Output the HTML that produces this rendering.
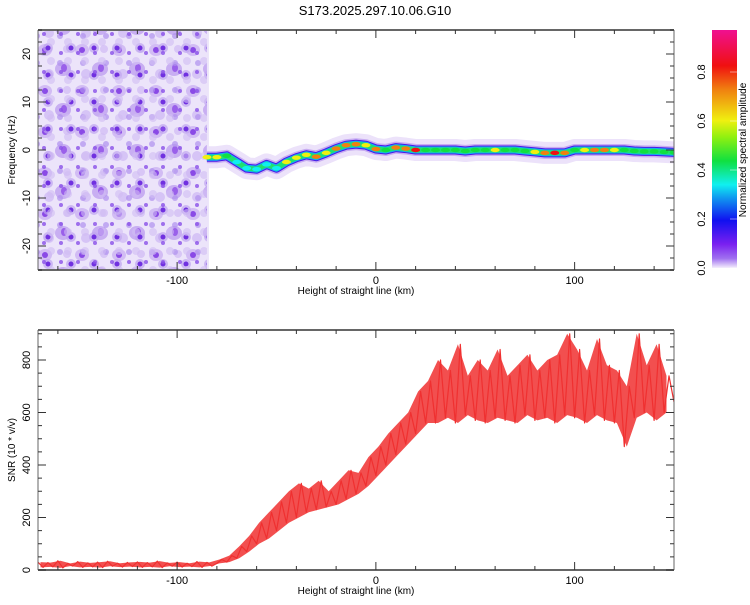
<!DOCTYPE html>
<html><head><meta charset="utf-8"><style>
body{margin:0;background:#fff;}
svg text{font-family:"Liberation Sans",sans-serif;font-size:11px;fill:#000;}
</style></head><body>
<svg id="chart" width="750" height="600" viewBox="0 0 750 600" xmlns="http://www.w3.org/2000/svg">
<defs>
<linearGradient id="cbar" x1="0" y1="1" x2="0" y2="0">
<stop offset="0" stop-color="#f4eefc"/><stop offset="0.04" stop-color="#a070f0"/><stop offset="0.1" stop-color="#7a20f0"/>
<stop offset="0.2" stop-color="#1010f0"/><stop offset="0.3" stop-color="#10a0f0"/><stop offset="0.35" stop-color="#10f0f0"/>
<stop offset="0.45" stop-color="#10e040"/><stop offset="0.55" stop-color="#90f010"/><stop offset="0.62" stop-color="#f0f010"/>
<stop offset="0.75" stop-color="#f08010"/><stop offset="0.85" stop-color="#f01010"/><stop offset="1" stop-color="#f01090"/>
</linearGradient>
<pattern id="p1" width="37" height="41" patternUnits="userSpaceOnUse">
<ellipse cx="8" cy="9" rx="7" ry="6" fill="#d2bcf4"/><ellipse cx="26" cy="28" rx="8" ry="7" fill="#c8aef2"/>
<circle cx="8" cy="9" r="3" fill="#8a4ae6"/><ellipse cx="27" cy="27" rx="3" ry="4" fill="#9a60ea"/>
<circle cx="30" cy="8" r="4" fill="#d8c6f6"/><circle cx="12" cy="33" r="5" fill="#d6c4f6"/>
</pattern>
<pattern id="p2" width="23" height="27" patternUnits="userSpaceOnUse" x="11" y="5">
<circle cx="14" cy="16" r="5" fill="#c0a4f0" opacity="0.7"/><circle cx="14" cy="16" r="2.5" fill="#7030e0"/>
<circle cx="3" cy="4" r="3" fill="#b090ee" opacity="0.7"/>
</pattern>
<pattern id="p3" width="17" height="19" patternUnits="userSpaceOnUse" x="5" y="9">
<circle cx="5" cy="6" r="2" fill="#8a50e8" opacity="0.8"/><circle cx="12" cy="14" r="4" fill="#d0bcf4" opacity="0.6"/>
</pattern>
<clipPath id="topclip"><rect x="38" y="30" width="636" height="240"/></clipPath>
<clipPath id="botclip"><rect x="38" y="330" width="636" height="240"/></clipPath>
</defs>
<text x="375" y="15" text-anchor="middle" style="font-size:13px">S173.2025.297.10.06.G10</text>
<g id="topPanel"></g>
<g id="bot"></g>
<g id="cb"></g>
</svg>
<script>
// data
const bandX = [-85,-80,-75,-70,-65,-60,-55,-50,-45,-40,-35,-30,-25,-20,-15,-10,-5,0,5,10,15,20,25,30,35,40,45,50,55,60,65,70,75,80,85,90,95,100,105,110,115,120,125,130,135,140,145,150];
const bandFreq = [-1.5,-1.5,-1.2,-2.5,-3.8,-4,-3,-3.8,-2.5,-1.6,-1,-1.4,-0.6,0.3,1,1.2,1,0.2,0,0.5,0.3,0,0,0,0,0,-0.2,0,0,0,0,0,-0.2,-0.4,-0.6,-0.6,-0.6,0,0,0,0,0,0,-0.2,-0.3,-0.3,-0.4,-0.5];
const bandAmp = [0.7,0.6,0.5,0.4,0.3,0.3,0.4,0.4,0.6,0.7,0.65,0.75,0.7,0.8,0.85,0.75,0.6,0.85,0.5,0.85,0.85,0.9,0.55,0.5,0.45,0.5,0.45,0.55,0.5,0.7,0.5,0.5,0.5,0.7,0.85,0.9,0.75,0.55,0.6,0.75,0.85,0.6,0.5,0.5,0.45,0.45,0.5,0.5];
const snrStart = -170, snrStep = 2.5;
const snrValues = [30,10,28,12,35,8,25,15,32,10,27,12,30,9,33,14,26,11,29,13,31,10,28,12,34,9,27,14,30,11,26,13,32,10,29,15,
25,40,30,55, 45,90,70,130, 100,180,120,220, 150,260,180,300, 200,330,220,310, 230,340,240,300, 250,340,270,380, 290,370,320,430,
360,470,400,520, 440,560,480,600, 520,680,560,720, 560,800,580,760, 560,860,590,740, 570,800,560,760, 580,840,570,740,
560,780,590,820, 570,760,580,800, 560,820,590,900, 580,840,560,760, 590,880,570,780, 560,760,470,700, 580,900,600,780, 570,860,600,740, 640];
const xTicks = [-100,0,100];
const freqTicks = [-20,-10,0,10,20];
const snrTicks = [0,200,400,600,800];
const cbTicks = [0.0,0.2,0.4,0.6,0.8];

const NS='http://www.w3.org/2000/svg';
function mk(tag,attrs,parent){const e=document.createElementNS(NS,tag);for(const k in attrs)e.setAttribute(k,attrs[k]);parent.appendChild(e);return e;}
const X = v => 38 + (v+170)*636/320;
const YF = v => 30 + (25-v)*4.8;
const YS = v => 570 - v*0.2625;
const YC = v => 268 - v*245;
function col(a){const c=['#7a20f0','#1010f0','#10f0f0','#10e040','#f0f010','#f08010','#f01010'];return c[Math.max(0,Math.min(6,Math.round(a*7-0.5)))];}

const svgRoot=document.getElementById('chart');
// ---- top panel
const topG=document.getElementById('topPanel');
const tc=mk('g',{'clip-path':'url(#topclip)'},topG);
let n=mk('rect',{x:38,y:30,width:X(-84)-38,height:240,fill:'#ece4fa'},tc);


['p1','p2','p3'].forEach(p=>{
 const r=mk('rect',{x:38,y:30,width:X(-85)-38,height:240,fill:'url(#'+p+')'},tc);
 
 
});
let d=bandX.map((x,i)=>(i?'L':'M')+X(x).toFixed(1)+','+YF(bandFreq[i]).toFixed(1)).join('');
[[22,'#ece2fa',1],[12,'#c8acf2',1],[9,'#4a18e8',1],[7,'#10b0f0',1],[5,'#20e070',1]].forEach((s,i)=>{
 const p=mk('path',{d:d,fill:'none',stroke:s[1],'stroke-width':s[0],'stroke-linecap':'butt','stroke-linejoin':'round',opacity:s[2]},tc);
 
 
});
bandX.forEach((x,i)=>{
 const e=mk('ellipse',{cx:X(x),cy:YF(bandFreq[i]),rx:4.5,ry:2.2,fill:col(bandAmp[i])},tc);
 
 
});
function frame(y0,y1,labelPrefix){
 const g=mk('g',{},svgRoot);
 mk('line',{x1:38,y1:y0,x2:674,y2:y0,stroke:'#666','stroke-width':2},g);
 mk('line',{x1:38,y1:y1,x2:674,y2:y1,stroke:'#666','stroke-width':2},g);
 mk('line',{x1:38,y1:y0,x2:38,y2:y1,stroke:'#666','stroke-width':1},g);
 mk('line',{x1:674,y1:y0,x2:674,y2:y1,stroke:'#666','stroke-width':1},g);
 for(let v=-160;v<=150;v+=20){const L=(v%100===0)?8:4;
  mk('line',{x1:X(v),y1:y1,x2:X(v),y2:y1-L,stroke:'#333'},g);mk('line',{x1:X(v),y1:y0,x2:X(v),y2:y0+L,stroke:'#333'},g);}
 xTicks.forEach(v=>{const t=mk('text',{x:X(v),y:y1+14,'text-anchor':'middle'},g);t.textContent=v;
  
  });
 const t=mk('text',{x:356,y:y1+24,'text-anchor':'middle',style:'font-size:10px'},g);t.textContent='Height of straight line (km)';
 
 
 return g;
}
let g=frame(30,270,'top');
for(let v=-25;v<=25;v+=2.5){const L=(v%10===0)?8:4;mk('line',{x1:38,y1:YF(v),x2:38+L,y2:YF(v),stroke:'#333'},g);mk('line',{x1:674,y1:YF(v),x2:674-L,y2:YF(v),stroke:'#333'},g);}
freqTicks.forEach(v=>{const t=mk('text',{x:0,y:0,'text-anchor':'middle',transform:`translate(30,${YF(v)}) rotate(-90)`},g);t.textContent=v;
 
 });
let tt=mk('text',{x:0,y:0,'text-anchor':'middle',style:'font-size:10px',transform:'translate(15,150) rotate(-90)'},g);tt.textContent='Frequency (Hz)';



// ---- bottom panel
const bot=document.getElementById('bot');
const bc=mk('g',{'clip-path':'url(#botclip)'},bot);
const lows=[],highs=[];
for(let i=0;i<snrValues.length-1;i+=2){const a=snrValues[i],b=snrValues[i+1];const x=X(snrStart+(i+0.5)*snrStep);lows.push([x,Math.min(a,b)]);highs.push([x,Math.max(a,b)]);}
const env='M'+highs.map(p=>p[0].toFixed(1)+','+YS(p[1]).toFixed(1)).join('L')+'L'+lows.slice().reverse().map(p=>p[0].toFixed(1)+','+YS(p[1]).toFixed(1)).join('L')+'Z';
const ef=mk('path',{d:env,fill:'#f03030',opacity:0.85,stroke:'none'},bc);


const sd=snrValues.map((v,i)=>(i?'L':'M')+X(snrStart+i*snrStep).toFixed(1)+','+YS(v).toFixed(1)).join('');
const line=mk('path',{d:sd,fill:'none',stroke:'#f03030','stroke-width':1.2,'stroke-linejoin':'round'},bc);


g=frame(330,570,'bottom');
for(let v=0;v<=900;v+=50){const L=(v%200===0)?8:4;mk('line',{x1:38,y1:YS(v),x2:38+L,y2:YS(v),stroke:'#333'},g);mk('line',{x1:674,y1:YS(v),x2:674-L,y2:YS(v),stroke:'#333'},g);}
snrTicks.forEach(v=>{const t=mk('text',{x:0,y:0,'text-anchor':'middle',transform:`translate(30,${YS(v)}) rotate(-90)`},g);t.textContent=v;
 
 });
tt=mk('text',{x:0,y:0,'text-anchor':'middle',style:'font-size:10px',transform:'translate(15,450) rotate(-90)'},g);tt.textContent='SNR (10 * v/v)';



// ---- colorbar
const cb=document.getElementById('cb');
mk('rect',{x:712,y:30,width:25,height:238,fill:'url(#cbar)'},cb);
cbTicks.forEach(v=>{mk('line',{x1:730,y1:YC(v),x2:737,y2:YC(v),stroke:'#fff','stroke-width':0.8,opacity:0.6},cb);
 const t=mk('text',{x:0,y:0,'text-anchor':'middle',transform:`translate(705,${YC(v)}) rotate(-90)`},cb);t.textContent=v.toFixed(1);
 
 });
tt=mk('text',{x:0,y:0,'text-anchor':'middle',style:'font-size:10px',transform:'translate(746,150) rotate(-90)'},cb);tt.textContent='Normalized spectral amplitude';


</script>
</body></html>
